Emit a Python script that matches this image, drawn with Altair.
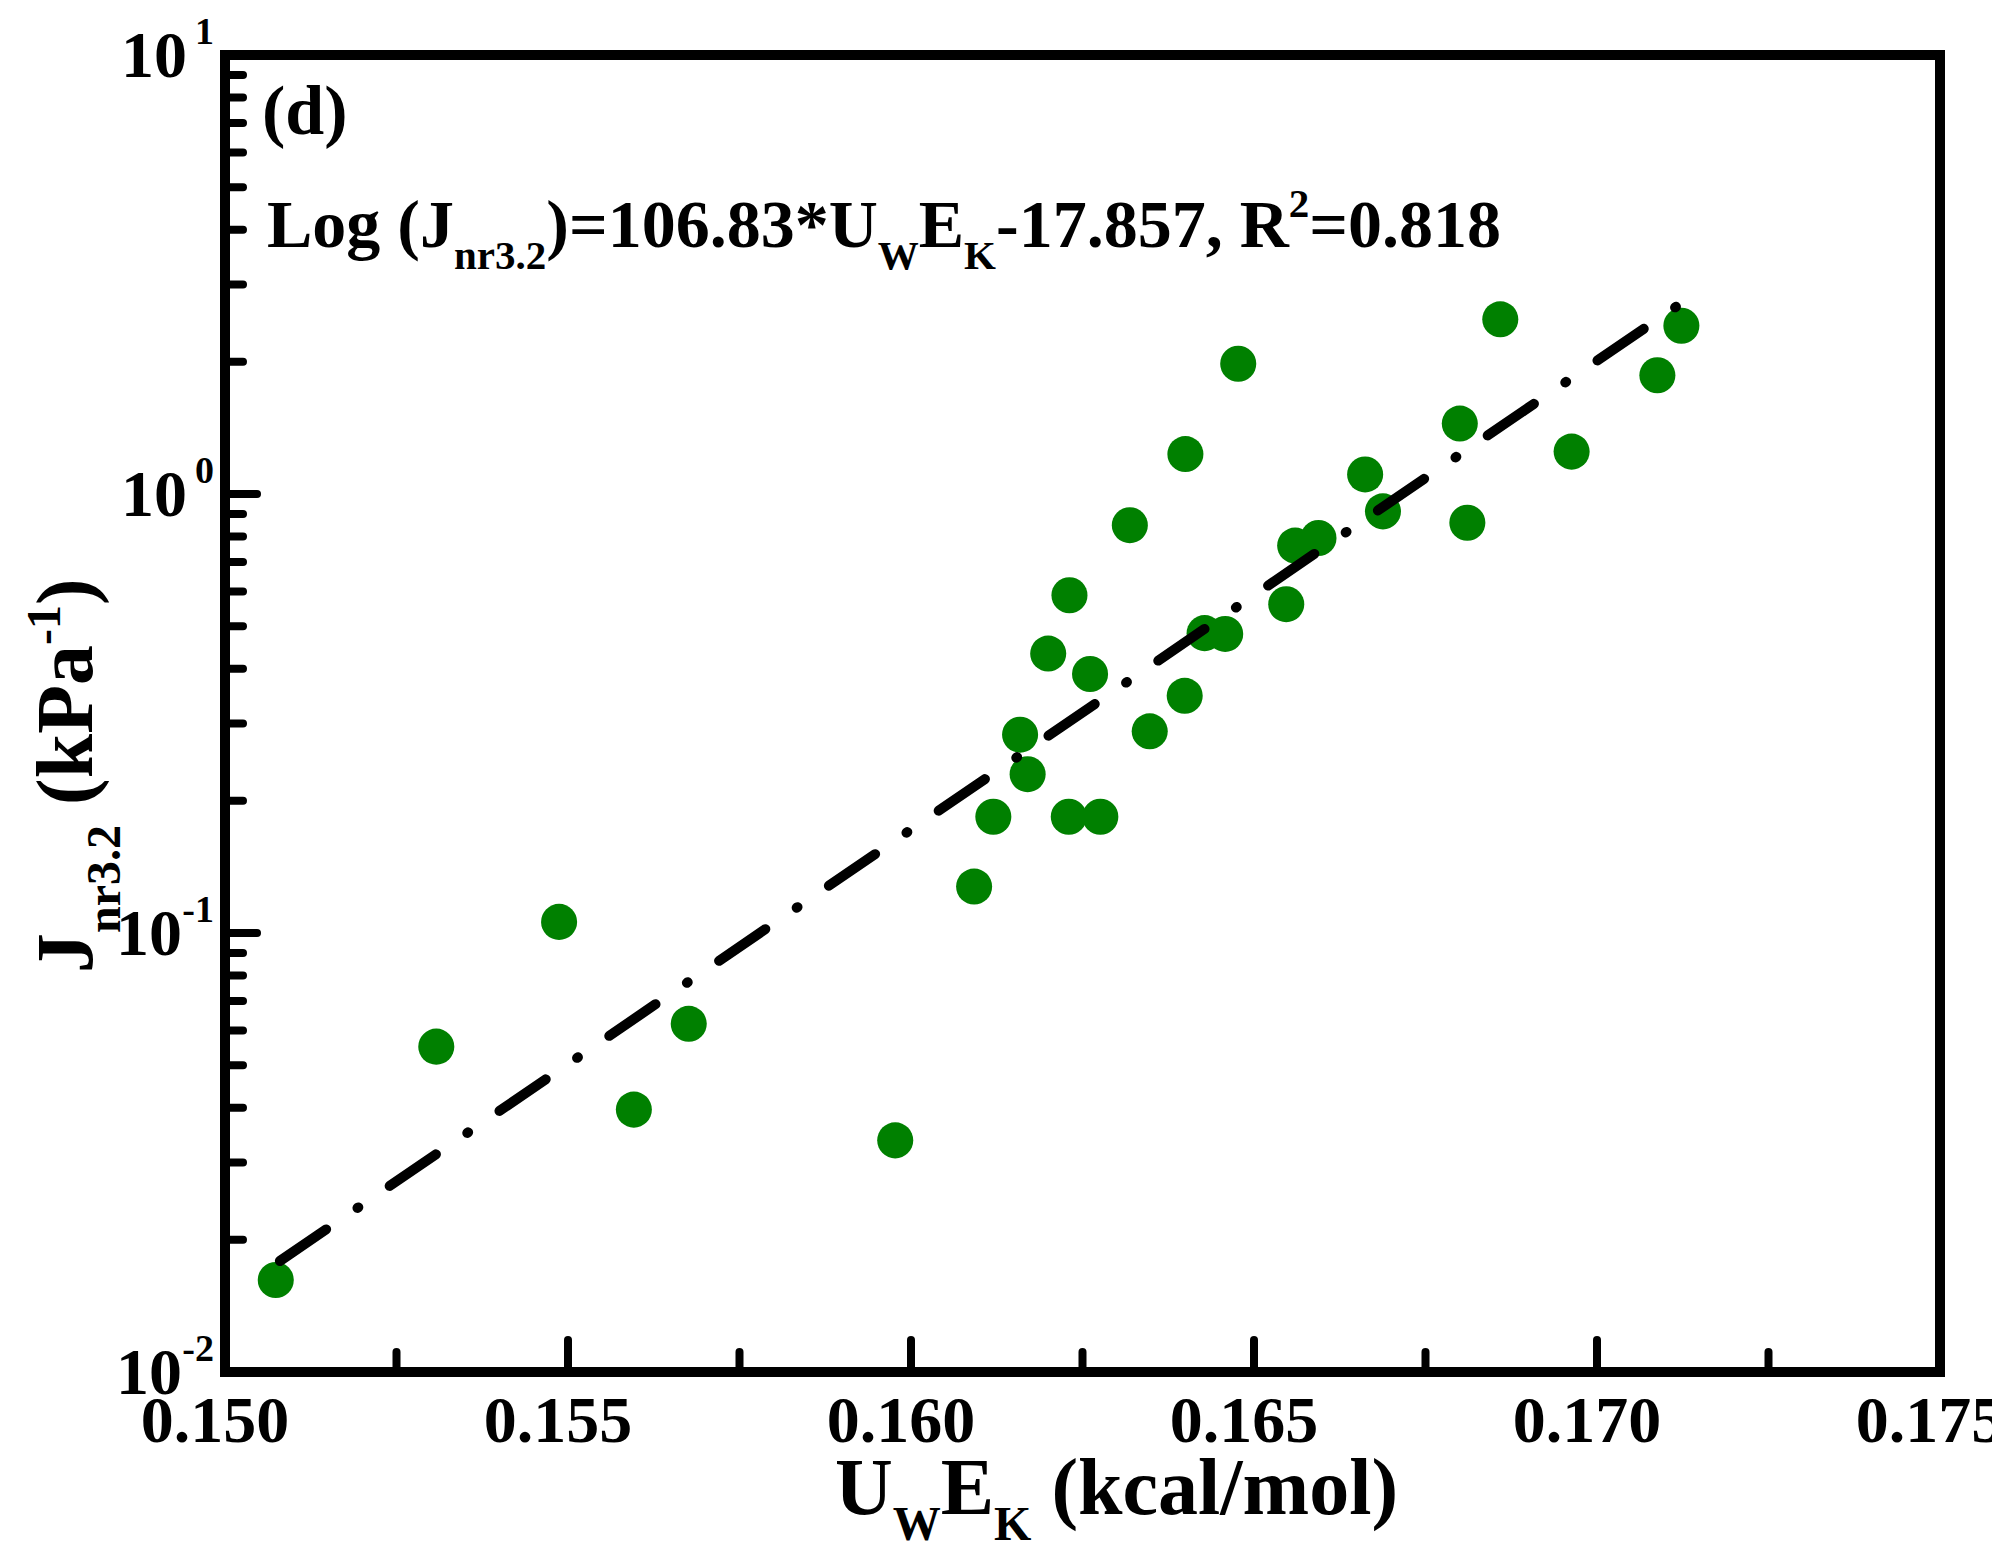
import altair as alt
import pandas as pd

# ---------------- data ----------------
uwek = [0.15074, 0.15308, 0.15487, 0.15596, 0.15676, 0.15977, 0.16092, 0.16120,
        0.16159, 0.16170, 0.16200, 0.16230, 0.16231, 0.16261, 0.16276, 0.16319,
        0.16348, 0.16399, 0.16400, 0.16428, 0.16458, 0.16477, 0.16547, 0.16560,
        0.16594, 0.16662, 0.16688, 0.16800, 0.16811, 0.16859, 0.16963, 0.17088,
        0.17123]
jnr = [0.0162, 0.0551, 0.106, 0.0396, 0.0621, 0.0337, 0.1276, 0.184,
       0.283, 0.230, 0.433, 0.184, 0.588, 0.389, 0.184, 0.849,
       0.288, 0.347, 1.233, 0.482, 0.480, 1.980, 0.561, 0.763,
       0.794, 1.108, 0.913, 1.447, 0.860, 2.50, 1.249, 1.864,
       2.417]

fit_x = [0.1508, 0.1713]
fit_y = [0.0179, 2.77]

x_major = [0.150, 0.155, 0.160, 0.165, 0.170, 0.175]
x_minor = [0.1525, 0.1575, 0.1625, 0.1675, 0.1725]
y_major = [0.01, 0.1, 1.0, 10.0]
y_exps = ["-2", "-1", "0", "1"]
y_minor = [k * 10.0 ** e for e in (-2, -1, 0) for k in range(2, 10)]

panel_label = "(d)"
eq_runs = [("Log (J", "n"), ("nr3.2", "sub"), (")=106.83*U", "n"), ("W", "sub"),
           ("E", "n"), ("K", "sub"), ("-17.857, R", "n"), ("2", "sup"), ("=0.818", "n")]
xtitle_runs = [("U", "n"), ("W", "sub"), ("E", "n"), ("K", "sub"), (" (kcal/mol)", "n")]
ytitle_runs = [("J", "n"), ("nr3.2", "sub"), (" (kPa", "n"), ("-1", "sup"), (")", "n")]

# ---------------- layout ----------------
W, H = 1715, 1317
FONT = "Liberation Serif"
GREEN = "#008000"

xscale = alt.Scale(domain=[0.150, 0.175], zero=False, nice=False)
yscale = alt.Scale(type="log", domain=[0.01, 10], nice=False)

# Times/Liberation Serif Bold advance widths (per 1000 em)
ADV = {' ': 250, '(': 333, ')': 333, '*': 500, '-': 333, '.': 250, ',': 250, '/': 278,
       '=': 570, 'L': 667, 'o': 500, 'g': 500, 'J': 500, 'n': 556, 'r': 444, 'U': 722,
       'W': 1000, 'E': 667, 'K': 778, 'R': 722, 'k': 556, 'c': 444, 'a': 500, 'l': 278,
       'm': 833, 'P': 611, 'd': 556}


def text_width(s, fs):
    return sum(ADV.get(ch, 500) for ch in s) * fs / 1000.0


def piece(txt, px, py, fs, angle=0, align="left"):
    return alt.Chart(pd.DataFrame({"t": [txt]})).mark_text(
        font=FONT, fontWeight="bold", fontSize=fs, align=align,
        baseline="alphabetic", angle=angle, color="black"
    ).encode(x=alt.value(px), y=alt.value(py), text="t:N")


def run_layers(runs, x0, y0, fs, sub_fs, sub_off, sup_off, vertical=False):
    layers = []
    pos = 0.0
    for txt, kind in runs:
        size = fs if kind == "n" else sub_fs
        off = 0 if kind == "n" else (sub_off if kind == "sub" else sup_off)
        lead = len(txt) - len(txt.lstrip(" "))
        pos += text_width(" " * lead, size)
        body = txt.lstrip(" ")
        if vertical:
            layers.append(piece(body, x0 + off, y0 - pos, size, angle=270))
        else:
            layers.append(piece(body, x0 + pos, y0 + off, size))
        pos += text_width(body, size)
    return layers


# ---------------- marks ----------------
pts = alt.Chart(pd.DataFrame({"x": uwek, "y": jnr})).mark_point(
    shape="circle", filled=True, size=1300, color=GREEN, opacity=1
).encode(
    x=alt.X("x:Q", scale=xscale, axis=None),
    y=alt.Y("y:Q", scale=yscale, axis=None),
)

fit = alt.Chart(pd.DataFrame({"x": fit_x, "y": fit_y})).mark_line(
    color="black", strokeWidth=10, strokeCap="round", strokeDash=[56, 38, 1, 38]
).encode(
    x=alt.X("x:Q", scale=xscale, axis=None),
    y=alt.Y("y:Q", scale=yscale, axis=None),
)


def xticks(vals, length):
    return alt.Chart(pd.DataFrame({"v": vals})).mark_rule(
        color="black", strokeWidth=8, strokeCap="round"
    ).encode(
        x=alt.X("v:Q", scale=xscale, axis=None),
        y=alt.value(H), y2=alt.value(H - length),
    )


def yticks(vals, length):
    return alt.Chart(pd.DataFrame({"v": vals})).mark_rule(
        color="black", strokeWidth=8, strokeCap="round"
    ).encode(
        y=alt.Y("v:Q", scale=yscale, axis=None),
        x=alt.value(0), x2=alt.value(length),
    )


xlabels = alt.Chart(pd.DataFrame({"v": x_major})).mark_text(
    font=FONT, fontWeight="bold", fontSize=66, align="center",
    baseline="alphabetic", color="black", dx=-10
).encode(
    x=alt.X("v:Q", scale=xscale, axis=None),
    y=alt.value(H + 70),
    text=alt.Text("v:Q", format=".3f"),
)

ydf = pd.DataFrame({"v": y_major, "e": y_exps, "base": ["10"] * len(y_major)})

ybase1 = alt.Chart(ydf).transform_filter("length(datum.e) == 1").mark_text(
    font=FONT, fontWeight="bold", fontSize=66, align="right",
    baseline="alphabetic", color="black", dy=22
).encode(y=alt.Y("v:Q", scale=yscale, axis=None), x=alt.value(-38), text="base:N")

ybase2 = alt.Chart(ydf).transform_filter("length(datum.e) == 2").mark_text(
    font=FONT, fontWeight="bold", fontSize=66, align="right",
    baseline="alphabetic", color="black", dy=22
).encode(y=alt.Y("v:Q", scale=yscale, axis=None), x=alt.value(-43), text="base:N")

yexp = alt.Chart(ydf).mark_text(
    font=FONT, fontWeight="bold", fontSize=38, align="right",
    baseline="alphabetic", color="black", dy=-11
).encode(y=alt.Y("v:Q", scale=yscale, axis=None), x=alt.value(-11), text="e:N")

texts = [piece(panel_label, 37, 79, 70)]
texts += run_layers(eq_runs, 42, 192, 68, 41, 22, -30)
texts += run_layers(xtitle_runs, 610, 1459, 80, 48, 26, -32)
texts += run_layers(ytitle_runs, -133, 918, 80, 48, 28, -32, vertical=True)

chart = alt.layer(
    pts, fit,
    xticks(x_major, 32), xticks(x_minor, 20),
    yticks(y_major, 32), yticks(y_minor, 18),
    xlabels, ybase1, ybase2, yexp,
    *texts
).properties(
    width=W, height=H,
    padding={"left": 217, "top": 47, "right": 52, "bottom": 182},
    autosize=alt.AutoSizeParams(type="none"),
    background="white",
).configure_view(
    stroke="black", strokeWidth=10
)

chart.save("out.html", embed_options={"renderer": "svg", "actions": False})
